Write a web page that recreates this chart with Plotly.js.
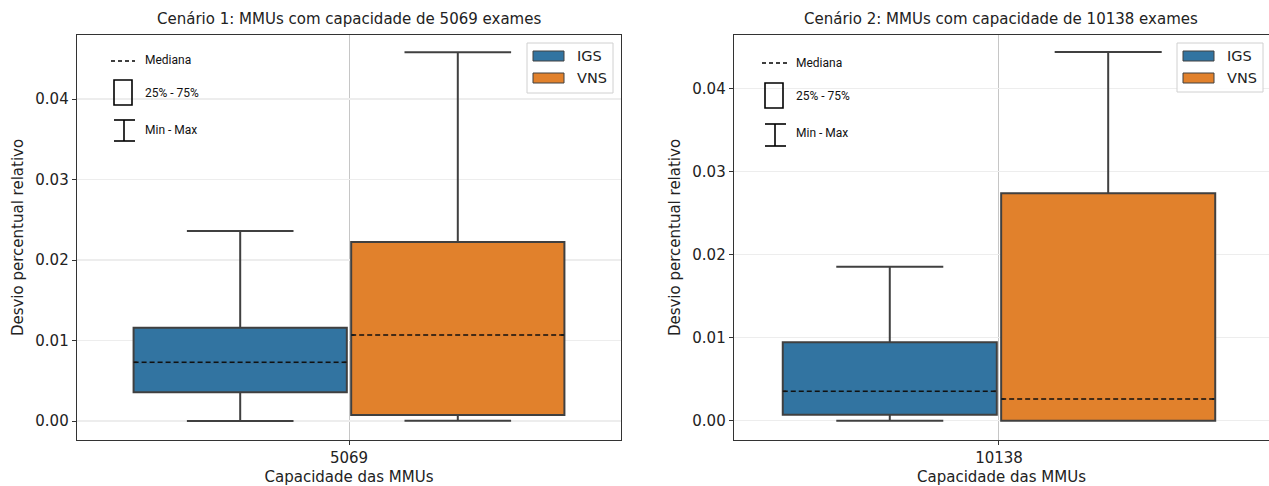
<!DOCTYPE html>
<html>
<head>
<meta charset="utf-8">
<script src="https://cdn.plot.ly/plotly-3.0.1.min.js"></script>
<style>html,body{margin:0;padding:0;background:#fff;}#chart{width:1269px;height:486px;}</style>
</head>
<body>
<div id="chart"></div>
<script>
// ---------------- data ----------------
const capacities = ['5069', '10138'];
const scenarioTitles = ['Cenário 1: MMUs com capacidade de 5069 exames', 'Cenário 2: MMUs com capacidade de 10138 exames'];
const seriesNames = ['IGS', 'VNS'];
// index 0 = scenario 1 (5069), index 1 = scenario 2 (10138)
const igsMin    = [0.00000, 0.00000];
const igsQ1     = [0.00357, 0.00072];
const igsMedian = [0.00729, 0.00353];
const igsQ3     = [0.01159, 0.00943];
const igsMax    = [0.02360, 0.01852];
const vnsMin    = [0.00002, 0.00000];
const vnsQ1     = [0.00075, 0.00000];
const vnsMedian = [0.01068, 0.00261];
const vnsQ3     = [0.02224, 0.02739];
const vnsMax    = [0.04580, 0.04437];
const yTickVals = [0, 0.01, 0.02, 0.03, 0.04];
const yTickText = ['0.00', '0.01', '0.02', '0.03', '0.04'];
const keyLabels = ['Mediana', '25% - 75%', 'Min - Max'];

// ---------------- styles ----------------
const W = 1269, H = 486;
const px = x => x / W;
const py = y => 1 - y / H;
const fillColors = ['#3274a1', '#e1812c'];
const edge = '#404040';
const frame = '#333333';
const font = 'DejaVu Sans, sans-serif';
const BOXGAP = 0.2, GROUPGAP = 0.02;

const stats = [
  {min: igsMin, q1: igsQ1, med: igsMedian, q3: igsQ3, max: igsMax},
  {min: vnsMin, q1: vnsQ1, med: vnsMedian, q3: vnsQ3, max: vnsMax}
];

const traces = [];
const shapes = [];
const annotations = [];
const axSuffix = ['', '2'];

for (let s = 0; s < 2; s++) {
  for (let k = 0; k < 2; k++) {
    const st = stats[k];
    traces.push({
      type: 'box',
      name: seriesNames[k],
      x: [capacities[s]],
      q1: [st.q1[s]], median: [st.med[s]], q3: [st.q3[s]],
      lowerfence: [st.min[s]], upperfence: [st.max[s]],
      xaxis: 'x' + axSuffix[s], yaxis: 'y' + axSuffix[s],
      offsetgroup: seriesNames[k],
      fillcolor: fillColors[k],
      line: {color: edge, width: 2},
      whiskerwidth: 0.5,
      boxpoints: false,
      showlegend: false,
      hoverinfo: 'skip'
    });
    // dashed median line
    const center = (k === 0 ? -1 : 1) * (1 - BOXGAP) / 4;
    const half = (1 - BOXGAP) * (1 - GROUPGAP) / 4;
    shapes.push({type: 'line', xref: 'x' + axSuffix[s], yref: 'y' + axSuffix[s],
      x0: center - half + 0.006, x1: center + half - 0.006, y0: st.med[s], y1: st.med[s],
      line: {color: fillColors[k], width: 2.6}, layer: 'above'});
    shapes.push({type: 'line', xref: 'x' + axSuffix[s], yref: 'y' + axSuffix[s],
      x0: center - half, x1: center + half, y0: st.med[s], y1: st.med[s],
      line: {color: '#111', width: 1.5, dash: '5px,3px'}, layer: 'above'});
  }
}

// subplot titles
const centersX = [349, 1001];
for (let s = 0; s < 2; s++) {
  annotations.push({text: scenarioTitles[s], xref: 'paper', yref: 'paper', x: px(centersX[s]), y: py(19),
    xanchor: 'center', yanchor: 'middle', showarrow: false, font: {family: font, size: 15, color: '#222'}});
}

// key (Mediana / 25%-75% / Min-Max) legend drawings
const keyPos = [
  {dash: [111, 135, 61], rect: [114, 80, 132, 105], ix: 124, it: 120, ib: 141, cap: [114, 135], tx: 143, ty: [60, 93, 130]},
  {dash: [762, 787, 63], rect: [765, 83, 783, 108], ix: 775, it: 124, ib: 146, cap: [765, 786], tx: 794, ty: [63, 96, 133]}
];
keyPos.forEach(p => {
  shapes.push({type: 'line', xref: 'paper', yref: 'paper', x0: px(p.dash[0]), x1: px(p.dash[1]), y0: py(p.dash[2]), y1: py(p.dash[2]),
    line: {color: '#000', width: 1.6, dash: '4px,3px'}});
  shapes.push({type: 'rect', xref: 'paper', yref: 'paper', x0: px(p.rect[0]), x1: px(p.rect[2]), y0: py(p.rect[1]), y1: py(p.rect[3]),
    line: {color: '#000', width: 1.6}, fillcolor: 'rgba(0,0,0,0)'});
  shapes.push({type: 'line', xref: 'paper', yref: 'paper', x0: px(p.ix), x1: px(p.ix), y0: py(p.it), y1: py(p.ib), line: {color: '#000', width: 1.6}});
  shapes.push({type: 'line', xref: 'paper', yref: 'paper', x0: px(p.cap[0]), x1: px(p.cap[1]), y0: py(p.it), y1: py(p.it), line: {color: '#000', width: 1.6}});
  shapes.push({type: 'line', xref: 'paper', yref: 'paper', x0: px(p.cap[0]), x1: px(p.cap[1]), y0: py(p.ib), y1: py(p.ib), line: {color: '#000', width: 1.6}});
  keyLabels.forEach((t, i) => {
    annotations.push({text: t, xref: 'paper', yref: 'paper', x: px(p.tx), y: py(p.ty[i]), xanchor: 'left', yanchor: 'middle',
      showarrow: false, font: {family: 'Roboto, sans-serif', size: 12, color: '#111'}});
  });
});

// series legend boxes (IGS / VNS)
const legPos = [
  {box: [527, 43, 613, 93], patch: [533, 564], py: [56, 78], tx: 575},
  {box: [1177, 43, 1263, 92], patch: [1183, 1214], py: [56, 78], tx: 1225}
];
legPos.forEach(p => {
  shapes.push({type: 'rect', xref: 'paper', yref: 'paper', x0: px(p.box[0]), x1: px(p.box[2]), y0: py(p.box[1]), y1: py(p.box[3]),
    line: {color: '#d0d0d0', width: 1}, fillcolor: 'rgba(255,255,255,0.85)', layer: 'above'});
  seriesNames.forEach((n, k) => {
    shapes.push({type: 'rect', xref: 'paper', yref: 'paper', x0: px(p.patch[0]), x1: px(p.patch[1]), y0: py(p.py[k] - 5), y1: py(p.py[k] + 5),
      line: {color: edge, width: 1}, fillcolor: fillColors[k], layer: 'above'});
    annotations.push({text: n, xref: 'paper', yref: 'paper', x: px(p.tx), y: py(p.py[k]), xanchor: 'left', yanchor: 'middle',
      showarrow: false, font: {family: font, size: 14.5, color: '#222'}});
  });
});

const yRanges = [[-0.00236, 0.04795], [-0.00233, 0.04643]];
const xRanges = [[-0.5, 0.5], [-0.4853, 0.4945]];
const xDomains = [[px(77), px(621)], [px(734), 1]];

function xAxis(s) {
  return {
    domain: xDomains[s], anchor: 'y' + axSuffix[s], type: 'category', range: xRanges[s],
    showline: true, mirror: true, linecolor: frame, linewidth: 1.3,
    ticks: 'outside', ticklen: 4, tickwidth: 1, tickcolor: frame,
    showgrid: true, gridcolor: '#b8b8b8', gridwidth: 0.8, zeroline: false,
    tickfont: {family: font, size: 15, color: '#222'},
    title: {text: 'Capacidade das MMUs', standoff: 5, font: {family: font, size: 15, color: '#222'}},
    fixedrange: true
  };
}
function yAxis(s) {
  return {
    domain: [py(440), py(35)], anchor: 'x' + axSuffix[s], range: yRanges[s],
    tickvals: yTickVals, ticktext: yTickText,
    showline: true, mirror: s === 0, linecolor: frame, linewidth: 1.3,
    ticks: 'outside', ticklen: 4, tickwidth: 1, tickcolor: frame,
    showgrid: true, gridcolor: '#ededed', gridwidth: 1.5, zeroline: false,
    tickfont: {family: font, size: 15, color: '#222'},
    title: {text: 'Desvio percentual relativo', standoff: 8, font: {family: font, size: 15, color: '#222'}},
    fixedrange: true
  };
}

const layout = {
  width: W, height: H,
  margin: {l: 0, r: 0, t: 0, b: 0, pad: 0},
  paper_bgcolor: '#fff', plot_bgcolor: '#fff',
  boxmode: 'group', boxgap: BOXGAP, boxgroupgap: GROUPGAP,
  showlegend: false,
  xaxis: xAxis(0), yaxis: yAxis(0),
  xaxis2: xAxis(1), yaxis2: yAxis(1),
  shapes: shapes, annotations: annotations,
  font: {family: font}
};

Plotly.newPlot('chart', traces, layout, {displayModeBar: false, staticPlot: true});
</script>
</body>
</html>
